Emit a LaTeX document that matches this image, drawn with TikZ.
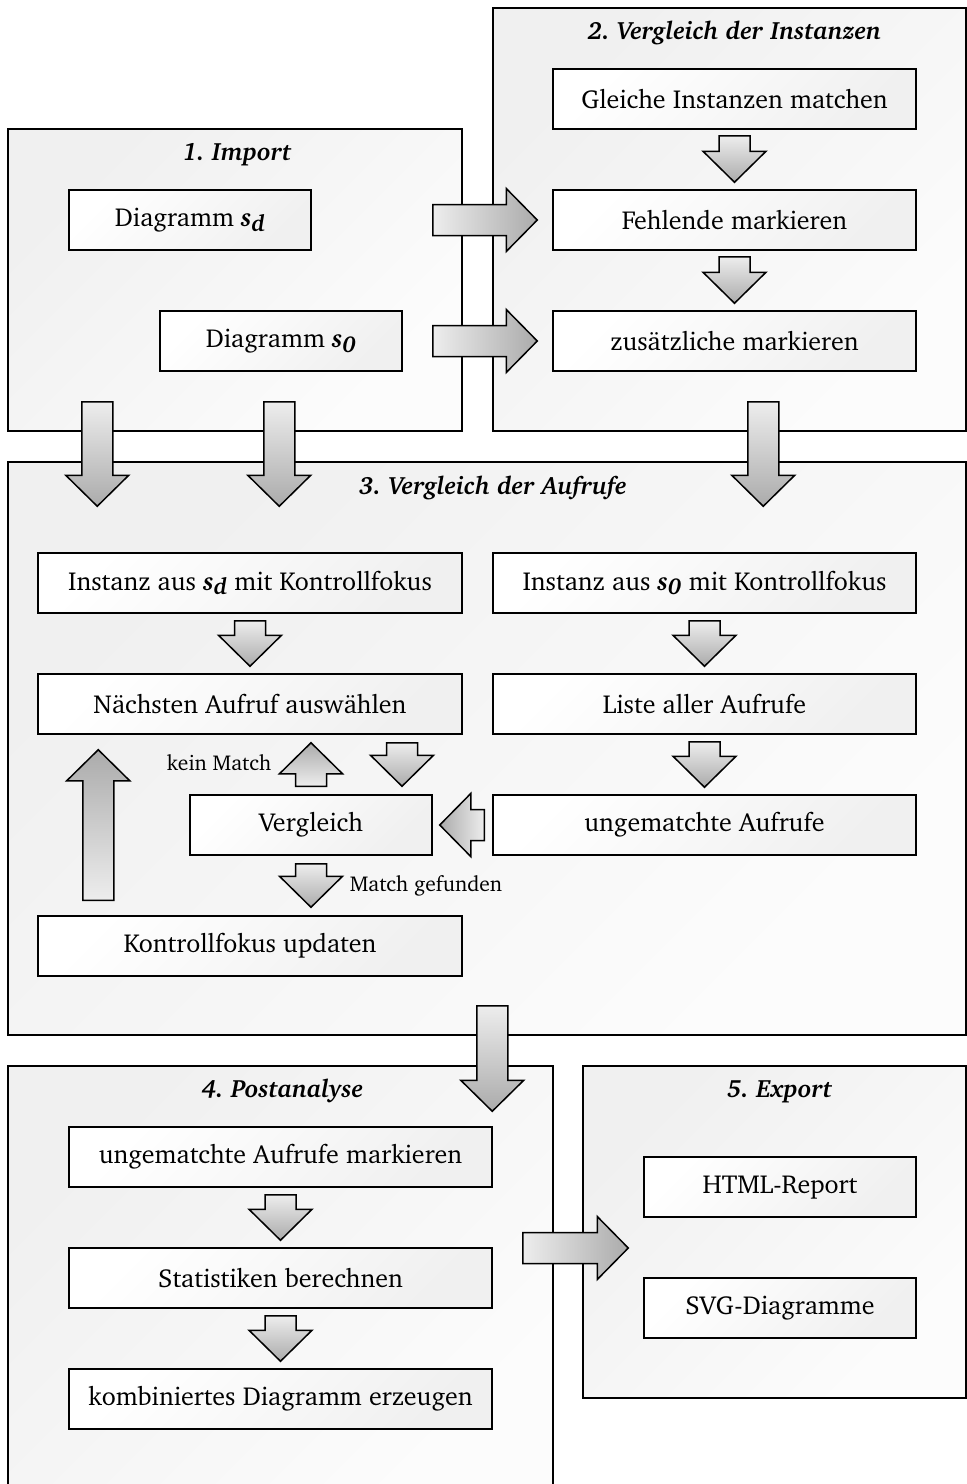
\documentclass[tikz,border=0pt]{standalone}
\usepackage[T1]{fontenc}
\usepackage{charter}
\usetikzlibrary{calc}
\frenchspacing

% font sizes
\newcommand{\bodyfont}{\fontsize{26}{30}\selectfont}
\newcommand{\titlefont}{\fontsize{25}{29}\selectfont\bfseries\itshape}
\newcommand{\notefont}{\fontsize{21.5}{24}\selectfont}
% variable names with subscripts
\newcommand{\sdvar}{{\bfseries\itshape s\raisebox{-.35ex}{\fontsize{23}{23}\selectfont d}}}
\newcommand{\sovar}{{\bfseries\itshape s\raisebox{-.35ex}{\fontsize{23}{23}\selectfont 0}}}

% block arrow from tail #2 to tip #3 with fill style #1
\newcommand{\blockarrow}[3]{%
  \coordinate (ba-t) at #2;
  \coordinate (ba-p) at #3;
  \coordinate (ba-h) at ($(ba-p)!31pt!(ba-t)$);
  \path[#1] ($(ba-t)!15.5pt!90:(ba-p)$) -- ($(ba-h)!15.5pt!90:(ba-p)$)
    -- ($(ba-h)!31.5pt!90:(ba-p)$) -- (ba-p)
    -- ($(ba-h)!31.5pt!-90:(ba-p)$) -- ($(ba-h)!15.5pt!-90:(ba-p)$)
    -- ($(ba-t)!15.5pt!-90:(ba-p)$) -- cycle;
}

\tikzset{
  grp/.style={draw=black, line width=1.5pt, inner sep=0pt,
    top color=black!6, bottom color=black!1, shading angle=45},
  box/.style={draw=black, line width=1.5pt, inner sep=0pt, minimum height=60pt,
    top color=white, bottom color=black!6, shading angle=45, font=\bodyfont},
  grptitle/.style={font=\titlefont, inner sep=0pt},
  note/.style={font=\notefont, inner sep=0pt},
  barr/.style={draw=black, line width=1.5pt, line join=miter},
  adown/.style={barr, top color=black!7, bottom color=black!33},
  aup/.style={barr, top color=black!33, bottom color=black!7},
  aright/.style={barr, left color=black!7, right color=black!33},
  aleft/.style={barr, left color=black!33, right color=black!7},
}

\begin{document}
\begin{tikzpicture}[x=1pt, y=-1pt]
\useasboundingbox (0,0) rectangle (967,1484);
\clip (0,0) rectangle (967,1484);

% phase frames
\node[grp, minimum width=454pt, minimum height=302pt] (g1) at (235,280) {};
\node[grp, minimum width=473pt, minimum height=423pt] (g2) at (729.5,219.5) {};
\node[grp, minimum width=958pt, minimum height=573pt] (g3) at (487,748.5) {};
\node[grp, minimum width=545pt, minimum height=440pt] (g4) at (280.5,1286) {};
\node[grp, minimum width=383pt, minimum height=332pt] (g5) at (774.5,1232) {};

\node[grptitle] (t1) at ($(g1.north)+(2,26)$) {1. Import};
\node[grptitle] (t2) at ($(g2.north)+(5,26)$) {2. Vergleich der Instanzen};
\node[grptitle] (t3) at ($(g3.north)+(6,27)$) {3. Vergleich der Aufrufe};
\node[grptitle] (t4) at ($(g4.north)+(2,26)$) {4. Postanalyse};
\node[grptitle] (t5) at ($(g5.north)+(5,26)$) {5. Export};

% 1. Import
\node[box, minimum width=242pt] (sd) at (190,220) {Diagramm \sdvar};
\node[box, minimum width=242pt] (so) at (281,341) {Diagramm \sovar};

% 2. Vergleich der Instanzen
\node[box, minimum width=363pt] (gl) at (734.5,99) {Gleiche Instanzen matchen};
\node[box, minimum width=363pt] (fe) at (734.5,220) {Fehlende markieren};
\node[box, minimum width=363pt] (zu) at (734.5,341) {zusätzliche markieren};

% 3. Vergleich der Aufrufe
\node[box, minimum width=424pt] (isd) at (250,583) {Instanz aus \sdvar{} mit Kontrollfokus};
\node[box, minimum width=423pt] (iso) at (704.5,583) {Instanz aus \sovar{} mit Kontrollfokus};
\node[box, minimum width=424pt] (nae) at (250,704) {Nächsten Aufruf auswählen};
\node[box, minimum width=423pt] (lis) at (704.5,704) {Liste aller Aufrufe};
\node[box, minimum width=242pt] (ver) at (311,825) {Vergleich};
\node[box, minimum width=423pt] (ung) at (704.5,825) {ungematchte Aufrufe};
\node[box, minimum width=424pt] (kon) at (250,946) {Kontrollfokus updaten};

% 4. Postanalyse
\node[box, minimum width=423pt] (um) at (280.5,1157) {ungematchte Aufrufe markieren};
\node[box, minimum width=423pt] (sta) at (280.5,1278) {Statistiken berechnen};
\node[box, minimum width=423pt] (kom) at (280.5,1399) {kombiniertes Diagramm erzeugen};

% 5. Export
\node[box, minimum width=272pt] (html) at (780,1187) {HTML-Report};
\node[box, minimum width=272pt] (svg) at (780,1308) {SVG-Diagramme};

% arrows inside phase 2
\blockarrow{adown}{($(gl.south)+(0,6)$)}{($(fe.north)+(0,-7)$)}
\blockarrow{adown}{($(fe.south)+(0,6)$)}{($(zu.north)+(0,-7)$)}

% phase 1 to phase 2
\blockarrow{aright}{($(fe.west -| g1.east)+(-30,0)$)}{($(fe.west)+(-15,0)$)}
\blockarrow{aright}{($(zu.west -| g1.east)+(-30,0)$)}{($(zu.west)+(-15,0)$)}

% phases 1 and 2 to phase 3
\blockarrow{adown}{($(g1.south west)+(90,-30)$)}{($(g3.north west)+(90,45)$)}
\blockarrow{adown}{($(g1.south west)+(272,-30)$)}{($(g3.north west)+(272,45)$)}
\blockarrow{adown}{($(g2.south west)+(271,-30)$)}{($(g3.north west)+(756,45)$)}

% arrows inside phase 3
\blockarrow{adown}{($(isd.south)+(0,7)$)}{($(nae.north)+(0,-7)$)}
\blockarrow{adown}{($(iso.south)+(0,7)$)}{($(lis.north)+(0,-7)$)}
\blockarrow{adown}{($(lis.south)+(0,7)$)}{($(ung.north)+(0,-7)$)}
\blockarrow{adown}{($(nae.south)+(152,8)$)}{($(ver.north)+(91,-8)$)}
\blockarrow{aup}{($(ver.north)+(0,-8)$)}{($(ver.north |- nae.south)+(0,8)$)}
\blockarrow{aleft}{($(ung.west)+(-8,0)$)}{($(ver.east)+(7,0)$)}
\blockarrow{adown}{($(ver.south)+(0,8)$)}{($(kon.north)+(61,-8)$)}
\blockarrow{aup}{($(kon.north west)+(61,-15)$)}{($(nae.south west)+(61,15)$)}

\node[note] (nomatch) at ($(ver.north)+(-92,-32)$) {kein Match};
\node[note] (match) at ($(ver.south)+(115,30)$) {Match gefunden};

% phase 3 to phase 4
\blockarrow{adown}{($(g3.south west)+(485,-30)$)}{($(g4.north west)+(485,46)$)}

% arrows inside phase 4
\blockarrow{adown}{($(um.south)+(0,7)$)}{($(sta.north)+(0,-7)$)}
\blockarrow{adown}{($(sta.south)+(0,7)$)}{($(kom.north)+(0,-7)$)}

% phase 4 to phase 5
\blockarrow{aright}{($(g4.east |- sta.center)+(-31,-30)$)}{($(g5.west |- sta.center)+(46,-30)$)}
\end{tikzpicture}
\end{document}
